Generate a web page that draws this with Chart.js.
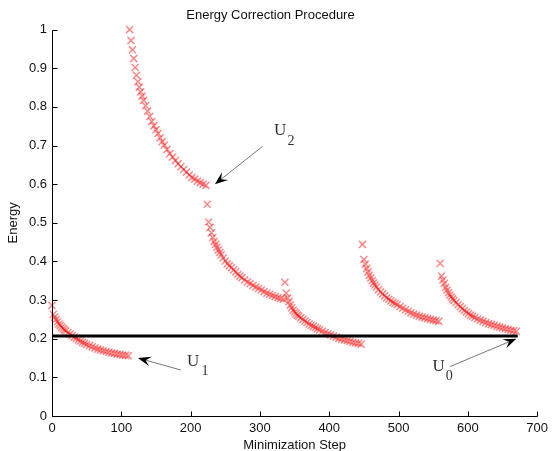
<!DOCTYPE html>
<html>
<head>
<meta charset="utf-8">
<script src="https://cdn.jsdelivr.net/npm/chart.js@4.4.1/dist/chart.umd.min.js"></script>
<style>
  body { margin: 0; background: #fff; }
  #wrap { width: 553px; height: 451px; }
</style>
</head>
<body>
<div id="wrap"><canvas id="energyChart" width="553" height="451"></canvas></div>
<script>
// step offsets inside each correction segment
var steps = [0, 2, 4, 6, 8, 10, 12, 14, 16, 18, 20, 23, 26, 29, 32, 35, 38, 41, 44, 47,
  50, 54, 58, 62, 66, 70, 74, 78, 82, 86, 90, 94, 98, 102, 106, 110];
var segStarts = [0, 112, 224, 336, 448, 560];

// energy values, one array per segment
var seg1 = [0.286, 0.263, 0.256, 0.250, 0.244, 0.238, 0.234, 0.230, 0.226, 0.223, 0.220, 0.216,
  0.212, 0.208, 0.204, 0.201, 0.197, 0.194, 0.191, 0.188, 0.185, 0.182, 0.179, 0.176, 0.173,
  0.171, 0.169, 0.167, 0.165, 0.163, 0.162, 0.160, 0.159, 0.158, 0.157, 0.156];
var seg2 = [1.000, 0.972, 0.948, 0.925, 0.902, 0.882, 0.865, 0.851, 0.839, 0.828, 0.817, 0.803,
  0.789, 0.775, 0.762, 0.751, 0.741, 0.731, 0.720, 0.710, 0.701, 0.690, 0.679, 0.670, 0.661,
  0.653, 0.645, 0.638, 0.631, 0.624, 0.617, 0.613, 0.608, 0.604, 0.600, 0.597];
var seg3 = [0.548, 0.502, 0.488, 0.474, 0.462, 0.452, 0.444, 0.437, 0.430, 0.423, 0.417, 0.409,
  0.401, 0.394, 0.389, 0.384, 0.378, 0.373, 0.367, 0.362, 0.358, 0.352, 0.347, 0.343, 0.338,
  0.334, 0.330, 0.326, 0.322, 0.318, 0.315, 0.312, 0.309, 0.306, 0.304, 0.302];
var seg4 = [0.346, 0.318, 0.306, 0.296, 0.287, 0.280, 0.274, 0.269, 0.265, 0.261, 0.258, 0.254,
  0.250, 0.246, 0.242, 0.238, 0.235, 0.232, 0.229, 0.226, 0.223, 0.219, 0.216, 0.213, 0.210,
  0.207, 0.204, 0.201, 0.199, 0.197, 0.195, 0.193, 0.191, 0.189, 0.188, 0.186];
var seg5 = [0.444, 0.405, 0.393, 0.382, 0.373, 0.364, 0.357, 0.350, 0.344, 0.339, 0.334, 0.327,
  0.321, 0.316, 0.311, 0.306, 0.302, 0.298, 0.294, 0.291, 0.288, 0.283, 0.279, 0.275, 0.271,
  0.267, 0.264, 0.261, 0.258, 0.256, 0.254, 0.252, 0.250, 0.248, 0.247, 0.245];
var seg6 = [0.395, 0.362, 0.352, 0.343, 0.333, 0.326, 0.319, 0.313, 0.308, 0.303, 0.299, 0.294,
  0.288, 0.283, 0.278, 0.273, 0.269, 0.265, 0.261, 0.258, 0.255, 0.251, 0.248, 0.245, 0.242,
  0.239, 0.237, 0.235, 0.232, 0.230, 0.228, 0.226, 0.224, 0.222, 0.221, 0.219];
var segments = [seg1, seg2, seg3, seg4, seg5, seg6];

// horizontal reference level U0
var refLevel = 0.207;
var refSpan = [0, 672];

var xTicks = [0, 100, 200, 300, 400, 500, 600, 700];
var yTicks = [0, 0.1, 0.2, 0.3, 0.4, 0.5, 0.6, 0.7, 0.8, 0.9, 1];

// U labels and arrows, in data units
var uNames = ["2", "1", "0"];
var uText = [[329, 0.738], [203.6, 0.141], [558, 0.128]];
var uSub = [[344.8, 0.712], [220.7, 0.115], [573, 0.102]];
var arrowFrom = [[304, 0.698], [186, 0.119], [574.5, 0.128]];
var arrowTo = [[235, 0.600], [124, 0.150], [670, 0.200]];

var markColor = "rgba(255, 20, 20, 0.5)";

function toPoints(start, vals) {
  return vals.map(function (v, i) {
    return { x: start + steps[i], y: v };
  });
}

function drawArrow(ctx, x1, y1, x2, y2) {
  var dx = x2 - x1, dy = y2 - y1;
  var len = Math.sqrt(dx * dx + dy * dy);
  var ux = dx / len, uy = dy / len, nx = -uy, ny = ux;
  var L = 13, W = 5, notch = 8;
  ctx.strokeStyle = "#777";
  ctx.lineWidth = 1;
  ctx.beginPath();
  ctx.moveTo(x1, y1);
  ctx.lineTo(x2 - ux * notch, y2 - uy * notch);
  ctx.stroke();
  ctx.fillStyle = "#000";
  ctx.beginPath();
  ctx.moveTo(x2, y2);
  ctx.lineTo(x2 - ux * L + nx * W, y2 - uy * L + ny * W);
  ctx.lineTo(x2 - ux * notch, y2 - uy * notch);
  ctx.lineTo(x2 - ux * L - nx * W, y2 - uy * L - ny * W);
  ctx.closePath();
  ctx.fill();
}

var extras = {
  id: "extras",
  afterDatasetsDraw: function (chart) {
    var ctx = chart.ctx, xs = chart.scales.x, ys = chart.scales.y, a = chart.chartArea;
    ctx.save();
    // axes with inward ticks
    ctx.strokeStyle = "#000";
    ctx.lineWidth = 1;
    ctx.beginPath();
    var left = Math.round(a.left) + 0.5, bottom = Math.round(a.bottom) + 0.5;
    ctx.moveTo(left, Math.round(ys.getPixelForValue(1)) + 0.5);
    ctx.lineTo(left, bottom);
    ctx.lineTo(Math.round(xs.getPixelForValue(700)) + 0.5, bottom);
    xTicks.forEach(function (t) {
      var px = Math.round(xs.getPixelForValue(t)) + 0.5;
      ctx.moveTo(px, bottom);
      ctx.lineTo(px, bottom - 5);
    });
    yTicks.forEach(function (t) {
      var py = Math.round(ys.getPixelForValue(t)) + 0.5;
      ctx.moveTo(left, py);
      ctx.lineTo(left + 5, py);
    });
    ctx.stroke();

    // arrows and U labels
    for (var i = 0; i < uNames.length; i++) {
      drawArrow(ctx,
        xs.getPixelForValue(arrowFrom[i][0]), ys.getPixelForValue(arrowFrom[i][1]),
        xs.getPixelForValue(arrowTo[i][0]), ys.getPixelForValue(arrowTo[i][1]));
      ctx.fillStyle = "#333";
      ctx.textAlign = "center";
      ctx.textBaseline = "middle";
      ctx.font = '17px "Liberation Serif", serif';
      ctx.fillText("U", xs.getPixelForValue(uText[i][0]), ys.getPixelForValue(uText[i][1]));
      ctx.font = '14px "Liberation Serif", serif';
      ctx.fillText(uNames[i], xs.getPixelForValue(uSub[i][0]), ys.getPixelForValue(uSub[i][1]));
    }
    ctx.restore();
  }
};

Chart.defaults.font.family = '"Liberation Sans", Arial, Helvetica, sans-serif';
Chart.defaults.font.size = 13;
Chart.defaults.color = "#111";

var datasets = [
  {
    type: "line",
    label: "U0",
    data: [{ x: refSpan[0], y: refLevel }, { x: refSpan[1], y: refLevel }],
    borderColor: "#000",
    borderWidth: 3,
    pointRadius: 0,
    showLine: true,
    order: -1,
  },
];
segments.forEach(function (seg, i) {
  datasets.push({
    label: "Segment " + (i + 1),
    data: toPoints(segStarts[i], seg),
    pointStyle: "crossRot",
    pointRadius: 5,
    pointBorderWidth: 1.5,
    borderColor: markColor,
    backgroundColor: markColor,
    showLine: false,
    clip: false,
  });
});

new Chart(document.getElementById("energyChart"), {
  type: "scatter",
  data: { datasets: datasets },
  plugins: [extras],
  options: {
    responsive: false,
    animation: false,
    layout: { padding: { top: 0, right: 12, left: 0, bottom: 0 } },
    plugins: {
      legend: { display: false },
      tooltip: { enabled: false },
      title: {
        display: true,
        text: "Energy Correction Procedure",
        font: { size: 13, weight: "normal" },
        padding: { top: 8, bottom: 6 },
      },
    },
    scales: {
      x: {
        type: "linear",
        min: 0,
        max: 700,
        grid: { display: false, drawTicks: false },
        border: { display: false },
        afterBuildTicks: function (s) {
          s.ticks = xTicks.map(function (v) { return { value: v }; });
        },
        ticks: {
          padding: 5,
          maxRotation: 0,
          callback: function (v) { return String(v); },
        },
        title: { display: true, text: "Minimization Step", padding: { top: 0, bottom: -2 } },
        afterFit: function (s) { s.height = 35; },
      },
      y: {
        type: "linear",
        min: 0,
        max: 1,
        grid: { display: false, drawTicks: false },
        border: { display: false },
        afterBuildTicks: function (s) {
          s.ticks = yTicks.map(function (v) { return { value: v }; });
        },
        ticks: {
          padding: 5,
          callback: function (v) { return String(v); },
        },
        title: { display: true, text: "Energy", padding: { top: 6, bottom: 0 } },
        afterFit: function (s) { s.width = 52; },
      },
    },
  },
});
</script>
</body>
</html>
